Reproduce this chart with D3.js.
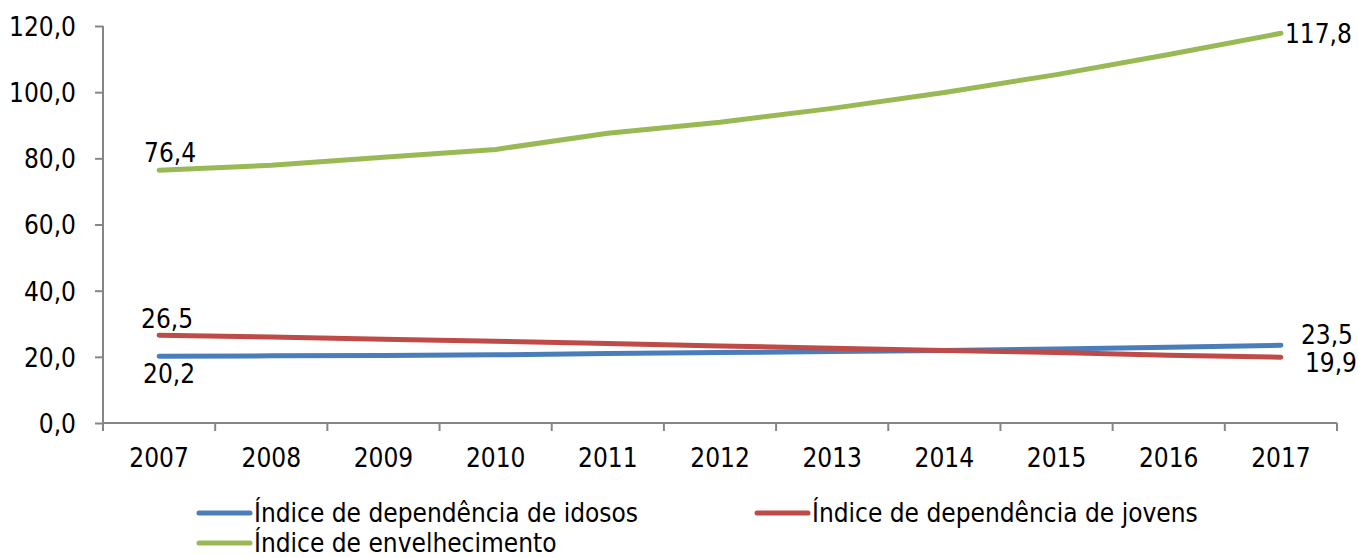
<!DOCTYPE html>
<html>
<head>
<meta charset="utf-8">
<script src="https://cdn.jsdelivr.net/npm/d3@7"></script>
<style>
  body { margin: 0; background: #fff; }
  text { font-family: "DejaVu Sans Condensed", "DejaVu Sans", sans-serif; font-stretch: condensed; fill: #000; }
</style>
</head>
<body>
<div id="chart"></div>
<script>
// data
var years = ["2007","2008","2009","2010","2011","2012","2013","2014","2015","2016","2017"];
var idosos = [20.2, 20.3, 20.4, 20.6, 21.0, 21.3, 21.6, 21.9, 22.4, 22.9, 23.5];
var jovens = [26.5, 26.0, 25.3, 24.7, 24.0, 23.3, 22.6, 21.9, 21.3, 20.5, 19.9];
var envelhecimento = [76.4, 77.9, 80.3, 82.7, 87.6, 90.9, 95.1, 99.9, 105.3, 111.4, 117.8];
var seriesNames = ["Índice de dependência de idosos", "Índice de dependência de jovens", "Índice de envelhecimento"];
var yTicks = [0, 20, 40, 60, 80, 100, 120];

var W = 1358, H = 558;
var margin = {top: 26, right: 21, bottom: 135, left: 103};
var width = W - margin.left - margin.right;
var height = H - margin.top - margin.bottom;
var fs = "26px";

var svg = d3.select("#chart").append("svg")
    .attr("width", W).attr("height", H);
var g = svg.append("g").attr("transform", "translate(" + margin.left + "," + margin.top + ")");

var x = d3.scaleBand().domain(years).range([0, width]);
var y = d3.scaleLinear().domain([0, 120]).range([height, 0]);
var fmt = function(v){ return d3.format(".1f")(v).replace(".", ","); };

// y axis
var yAxis = g.append("g").call(d3.axisLeft(y).tickValues(yTicks).tickFormat(fmt).tickSize(8).tickPadding(19));
yAxis.select(".domain").attr("stroke", "#868686").attr("stroke-width", 2).attr("d", "M0," + height + "V0");
yAxis.selectAll(".tick line").attr("stroke", "#868686").attr("stroke-width", 2);
yAxis.selectAll("text").style("font-size", fs).attr("dy", "0.36em");

// x axis, ticks sit on the band edges
var xAxis = g.append("g").attr("transform", "translate(0," + height + ")")
    .call(d3.axisBottom(x).tickSize(0).tickPadding(26));
xAxis.select(".domain").attr("stroke", "#868686").attr("stroke-width", 2).attr("d", "M0,0H" + width);
xAxis.selectAll("text").style("font-size", fs);
var edges = years.map(function(d){ return x(d); }).concat([width]);
xAxis.selectAll(".edge").data(edges).enter().append("line")
    .attr("x1", function(d){ return d; }).attr("x2", function(d){ return d; })
    .attr("y1", 0).attr("y2", 8)
    .attr("stroke", "#868686").attr("stroke-width", 2);

var colors = ["#4a7ebb", "#be4b48", "#98b954"];
var allSeries = [idosos, jovens, envelhecimento];

var line = d3.line()
    .x(function(d, i){ return x(years[i]) + x.bandwidth() / 2; })
    .y(function(d){ return y(d); });

allSeries.forEach(function(s, k){
  g.append("path").datum(s)
    .attr("d", line)
    .attr("fill", "none")
    .attr("stroke", colors[k])
    .attr("stroke-width", 5)
    .attr("stroke-linecap", "round")
    .attr("stroke-linejoin", "round");
});

// data labels on first and last points
var last = years.length - 1;
var cx0 = x(years[0]) + x.bandwidth() / 2;
var cxN = x(years[last]) + x.bandwidth() / 2;
function label(px, py, txt, anchor){
  g.append("text").attr("x", px).attr("y", py)
    .attr("text-anchor", anchor).style("font-size", fs).text(txt);
}
label(cx0 + 11, y(envelhecimento[0]) - 8, fmt(envelhecimento[0]), "middle");
label(cx0 + 8, y(jovens[0]) - 7, fmt(jovens[0]), "middle");
label(cx0 + 10, y(idosos[0]) + 27, fmt(idosos[0]), "middle");
label(cxN + 4, y(envelhecimento[last]) + 10, fmt(envelhecimento[last]), "start");
label(cxN + 20, y(idosos[last]) - 1, fmt(idosos[last]), "start");
label(cxN + 24, y(jovens[last]) + 15, fmt(jovens[last]), "start");

// legend
var legendPos = [[197, 513], [755, 513], [197, 543]];
seriesNames.forEach(function(name, k){
  var lg = svg.append("g").attr("transform", "translate(" + legendPos[k][0] + "," + legendPos[k][1] + ")");
  lg.append("line").attr("x1", 2).attr("x2", 53).attr("y1", 0).attr("y2", 0)
    .attr("stroke", colors[k]).attr("stroke-width", 5).attr("stroke-linecap", "round");
  lg.append("text").attr("x", 57).attr("y", 0).attr("dy", "0.36em")
    .style("font-size", fs).text(name);
});
</script>
</body>
</html>
